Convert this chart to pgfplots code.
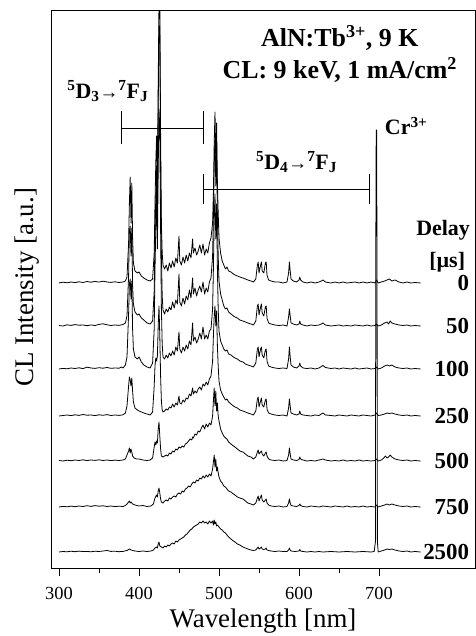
\documentclass[border=0pt]{standalone}
\usepackage{fontspec}
\setmainfont{Liberation Serif}
\usepackage{pgfplots}
\usepackage{pgfplotstable}
\pgfplotsset{compat=1.18}

\pgfplotstableread{
x h
300 0
305 0.8
310 0.2
315 1.0
320 0.4
325 1.2
330 0.5
335 1.5
340 0.8
345 1.6
350 0.9
355 1.8
360 1.0
365 0.6
370 1.2
375 0.5
380 1.0
383 2
385 6
387 40
388 80
389 106
390 60
391 100
392 45
393 20
395 12
398 10
400 11
403 7
406 5
410 3
414 2
417 4
419 30
420 80
421 120
422 147
423 90
424 200
425 280
426 280
427 150
428 60
429 30
430 18
432 14
434 18
436 12
438 20
440 15
442 22
444 16
446 25
448 20
450 47
451 22
453 18
455 26
457 20
459 28
461 22
463 30
465 25
467 44
468 30
470 35
472 28
474 32
476 38
478 30
480 39
482 28
484 34
486 30
488 40
490 45
492 60
493 90
494 140
495 171
496 120
497 160
498 100
499 70
500 45
502 30
504 22
506 18
508 14
510 16
512 12
515 11
518 9
520 8
523 7
526 6
530 5
533 4
536 3
540 2
543 1
546 4
548 18
549 21
550 10
552 18
553 21
554 12
556 10
558 20
559 21
560 8
562 3
565 2
570 1
575 1
580 0
585 1
587 10
588 21
589 12
590 4
593 2
597 1
600 3
601 6
602 3
605 1
610 0
615 1
620 0
625 1
628 2
630 3
633 1
640 0
645 1
650 0
655 1
660 0
665 0.5
670 1
675 0
680 1
685 0
690 1
695 0
697 3
699 0
703 1
707 2
710 3
713 4
716 2
720 3
725 1
730 0
735 1
740 0
745 0.5
752 0
}\Tzero

\pgfplotstableread{
x h
300 0.5
305 0
310 1.2
315 0.6
320 1.4
325 0.8
330 1.0
335 0.3
340 1.1
345 0.5
350 1.6
355 2.2
360 1.2
365 0.5
370 1.0
375 0.6
380 1.5
383 3
385 10
387 50
388 95
389 100
390 70
391 98
392 40
393 22
395 14
398 11
400 12
403 8
406 6
410 3
414 2
417 5
419 35
420 90
421 130
422 160
423 110
424 220
425 300
426 300
427 160
428 70
429 30
430 16
432 12
434 17
436 14
438 19
440 16
442 24
444 18
446 26
448 22
450 52
451 24
453 20
455 28
457 22
459 30
461 26
463 36
465 28
467 48
468 32
470 38
472 30
474 36
476 40
478 34
480 44
482 32
484 38
486 34
488 44
490 48
492 70
493 110
494 160
495 190
496 140
497 180
498 110
499 70
500 45
502 32
504 26
506 20
508 17
510 18
512 14
515 12
518 10
520 9
523 8
526 6
530 5
533 4
536 3
540 2
543 1
546 5
548 20
549 22
550 11
552 19
553 22
554 13
556 10
558 19
559 20
560 8
562 3
565 2
570 1
575 0.5
580 1
585 0
587 9
588 17
589 10
590 3
593 2
597 1
600 2
601 5
602 2
605 1
610 0
615 1
620 0.5
625 1
628 2
630 3
633 1
640 0
645 0.5
650 1
655 0
660 0.5
665 0
670 1
675 0.5
680 0
685 1
690 0
695 0.5
697 2
699 0
703 1
707 3
710 4
712 2
714 5
716 3
720 2
725 1
730 0.5
735 1
740 0
745 0.5
752 0
}\Tfifty

\pgfplotstableread{
x h
300 0
305 0.6
310 0.2
315 1.0
320 0.5
325 1.2
330 0.4
335 1.8
340 1.0
345 0.6
350 1.3
355 0.8
360 1.5
365 0.7
370 1.0
375 0.8
378 2
380 1.0
383 4
385 12
387 55
388 85
389 90
390 70
391 88
392 40
393 20
395 12
398 10
400 12
403 7
406 4
410 2
414 1
417 6
419 40
420 100
421 140
422 180
423 120
424 200
425 260
426 240
427 140
428 60
429 25
430 12
432 10
434 14
436 11
438 16
440 13
442 18
444 14
446 22
448 18
450 37
451 20
453 16
455 22
457 18
459 24
461 20
463 28
465 24
467 46
468 28
470 32
472 26
474 30
476 36
478 30
480 42
482 30
484 34
486 30
488 38
490 40
492 60
493 100
494 150
495 175
496 130
497 165
498 100
499 60
500 38
502 28
504 24
506 20
508 18
510 19
512 15
515 14
518 12
520 11
523 10
526 8
530 7
533 5
536 4
540 3
543 2
546 6
548 20
549 22
550 12
552 20
553 22
554 14
556 11
558 19
559 20
560 8
562 3
565 2
570 1
575 0.5
580 1
585 0.5
587 10
588 22
589 12
590 4
593 2
597 1
600 3
601 6
602 3
605 1
610 0.5
615 1
620 0
625 1
628 2.5
630 3.5
633 1.5
640 0.5
645 1
650 0
655 1
660 0.5
665 0
670 1
675 0
680 0.5
685 1
690 0
695 0.5
697 2
699 0
703 1
707 3
710 4
713 3
716 4
720 2
725 1
730 0.5
735 1
740 0
745 0.5
752 0
}\Thundred

\pgfplotstableread{
x h
300 0
305 0.5
310 1.0
315 0.4
320 1.2
325 0.6
330 1.5
335 0.8
340 1.0
345 0.4
350 1.2
355 0.7
360 1.4
365 0.5
370 1.0
375 0.6
380 1.2
383 3
385 10
387 30
388 39
389 36
390 30
391 38
392 25
393 14
395 8
398 6
400 5
403 4
406 3
410 2
414 1
417 4
419 30
420 50
421 58
422 55
423 60
424 90
425 110
426 80
427 40
428 15
429 6
430 4
432 5
434 7
436 6
438 9
440 8
442 12
444 9
446 13
448 11
450 20
451 13
453 12
455 16
457 14
459 18
461 17
463 22
465 20
467 28
468 22
470 25
472 23
474 27
476 29
478 26
480 32
482 30
484 34
486 31
488 37
490 40
492 55
493 80
494 100
495 110
496 90
497 105
498 70
499 50
500 35
502 26
504 22
506 19
508 16
510 17
512 14
515 12
518 10
520 9
523 8
526 6
530 5
533 4
536 3
540 2
543 1
546 5
548 17
549 19
550 9
552 15
553 18
554 11
556 9
558 16
559 17
560 7
562 3
565 2
570 1
575 0.5
580 1
585 0
587 8
588 17
589 10
590 3
593 2
597 1
600 2
601 5
602 2
605 1
610 0.5
615 0
620 1
625 0.5
628 2
630 3
633 1
640 0.5
645 0
650 1
655 0.5
660 0
665 1
670 0.5
675 0
680 1
685 0.5
690 0
695 1
697 3
699 0.5
703 1
707 2
710 3
713 2.5
716 3
720 2
725 1
730 0.5
735 1
740 0
745 0.5
752 0
}\Tquarter

\pgfplotstableread{
x h
300 0.5
305 0
310 0.8
315 0.3
320 1.0
325 0.5
330 1.2
335 0.4
340 1.0
345 0.6
350 1.2
355 0.5
360 1.0
365 0.4
370 0.9
375 0.5
380 1.0
383 2
385 6
387 10
388 13
389 8
390 12
391 9
392 5
394 3
397 2
400 2
405 1
410 0.5
414 1
417 3
419 14
420 19
421 16
422 20
423 18
424 32
425 39
426 25
427 12
428 5
430 4
432 5
434 6
436 5
438 8
440 7
442 10
444 9
446 12
448 11
450 14
452 13
454 15
456 14
458 17
460 18
462 20
464 22
466 21
467 24
468 23
470 27
472 26
474 30
476 29
478 33
480 36
482 32
484 37
486 34
488 38
490 36
492 45
493 60
494 73
495 55
496 70
497 50
498 58
499 45
500 40
502 32
504 28
506 25
508 23
510 22
512 19
515 17
518 15
520 14
523 12
526 10
530 9
533 7
536 5
540 4
543 2
546 4
548 9
549 11
550 7
552 9
553 10
554 7
556 5
558 8
559 9
560 5
562 2
565 1
570 0.5
575 1
580 0
585 0.5
587 6
588 13
589 7
590 2
593 1
597 0.5
600 1.5
601 4
602 2
605 1
610 0
615 0.5
620 0
625 1
628 1.5
630 2
633 1
640 0
645 0.5
650 0
655 1
660 0
665 0.5
670 0
675 1
680 0
685 0.5
690 0
695 0.5
697 2
699 0
703 1
706 3
708 5
710 3
712 4
714 6
716 4
720 2
725 1
730 0.5
735 1
740 0
745 0.5
752 0
}\Tfivehundred

\pgfplotstableread{
x h
300 0
305 0.6
310 0.2
315 0.9
320 0.3
325 1.0
330 0.5
335 1.3
340 0.6
345 1.4
350 0.8
355 1.2
360 0.5
365 1.0
370 0.4
375 0.8
380 0.5
383 1.5
385 3
387 5
388 6
389 4
390 5
392 3
395 2
400 1
405 1.5
410 0.5
415 1
418 3
420 9
422 12
423 10
424 16
425 19
426 14
427 8
428 5
430 4
432 6
434 7
436 6
438 9
440 8
442 10
444 11
446 10
448 13
450 14
452 13
454 16
456 15
458 18
460 19
462 21
464 20
466 23
468 25
470 24
472 27
474 26
476 29
478 28
480 31
482 29
484 32
486 30
488 33
490 31
492 38
493 45
494 52
495 40
496 48
497 36
498 40
499 34
500 30
502 26
504 24
506 21
508 20
510 18
512 16
515 15
518 13
520 12
523 10
526 9
530 8
533 6
536 4
540 3
543 2
546 4
548 9
549 11
550 6
552 10
553 12
554 7
556 5
558 7
559 8
560 4
562 2
565 1
570 0.5
575 1
580 0
585 0.5
587 4
588 8
589 4
590 1.5
593 1
597 0.5
600 1.5
601 3
602 1.5
605 0.5
610 0
615 1
620 0.5
625 0
630 1
635 0.5
640 0
645 1
650 0.5
655 0
660 1
665 0
670 0.5
675 0
680 1
685 0
690 0.5
695 0
697 2
699 0
703 1
707 2
710 3
713 2
716 3
720 2
725 1
730 0.5
735 1
740 0
745 0.5
752 0
}\Tsevenfifty

\pgfplotstableread{
x h
300 0
305 0.5
310 0.2
315 0.8
320 0.3
325 0.9
330 0.4
335 0.6
340 0.2
345 0.8
350 0.5
355 1.0
360 1.5
365 0.6
370 0.8
375 0.3
380 0.6
385 1.5
388 3
390 2
392 1.5
395 1
400 0.5
405 1
410 0.5
415 1
418 2
420 4
422 5
423 4
424 8
425 10
426 6
428 5
430 4
432 6
434 5
436 7
438 6
440 8
442 9
444 8
446 11
448 10
450 12
452 13
454 14
456 15
458 17
460 18
462 20
464 22
466 23
468 25
470 26
472 27
474 28
476 30
478 29
480 31
482 29
484 30
486 28
488 31
490 29
492 31
493 27
494 32
495 28
496 30
497 26
498 27
500 25
502 23
504 22
506 20
508 19
510 17
512 15
515 13
518 11
520 10
523 8
526 7
530 5
533 4
536 3
540 2
543 1.5
546 2
548 4
549 5
550 3
552 4
553 5
554 3
556 2.5
558 3
559 4
560 2
562 1.5
565 1
570 0.5
575 1
580 0.5
585 0.5
587 2
588 4
589 2
590 1
595 0.5
600 1
601 2.5
602 1
605 0.5
610 0
615 0.5
620 0
625 0.5
630 0
640 0.5
650 0
660 0.5
670 0
680 0.5
690 0
694 0.5
695.5 10
696 300
696.5 422
697 422
697.5 300
698 10
699 0
703 1
707 2
710 3
713 2.5
716 3
720 2
725 1
730 0.5
735 1
740 0
745 0.5
752 0
}\Ttwentyfive

\newcommand{\arr}{{\fontsize{19}{19}\selectfont →}}

\begin{document}
\begin{tikzpicture}
\useasboundingbox (-51bp,-68bp) rectangle (425bp,568bp);
\begin{axis}[
  at={(0,0)}, anchor=south west,
  scale only axis, width=424bp, height=557bp,
  xmin=290, xmax=820, ymin=0, ymax=557,
  axis line style={line width=1pt},
  xtick={300,400,500,600,700},
  minor xtick={350,450,550,650},
  xtick pos=bottom, tick align=outside,
  major tick length=8bp, minor tick length=5bp,
  tick style={black, line width=0.9pt},
  ytick=\empty,
  /pgf/number format/assume math mode=true,
  xticklabel style={font=\fontsize{18.5}{18.5}\selectfont, anchor=center, yshift=-17bp},
  xlabel={Wavelength [nm]},
  xlabel style={font=\fontsize{27}{27}\selectfont, at={(axis description cs:0.5,-0.095)}, anchor=center},
  ylabel={CL Intensity [a.u.]},
  ylabel style={font=\fontsize{27}{27}\selectfont, at={(axis description cs:-0.0566,0.504)}, anchor=center},
  spec/.style={black, solid, line width=0.8pt, no markers, line join=round},
]
\addplot[spec] table[x=x, y expr=\thisrow{h}+285] {\Tzero};
\addplot[spec] table[x=x, y expr=\thisrow{h}+242] {\Tfifty};
\addplot[spec] table[x=x, y expr=\thisrow{h}+199] {\Thundred};
\addplot[spec] table[x=x, y expr=\thisrow{h}+152] {\Tquarter};
\addplot[spec] table[x=x, y expr=\thisrow{h}+107] {\Tfivehundred};
\addplot[spec] table[x=x, y expr=\thisrow{h}+61] {\Tsevenfifty};
\addplot[spec] table[x=x, y expr=\thisrow{h}+16] {\Ttwentyfive};

\draw[line width=0.7pt] (axis cs:377.5,440) -- (axis cs:480,440);
\draw[line width=0.7pt] (axis cs:377.5,457) -- (axis cs:377.5,424);
\draw[line width=0.7pt] (axis cs:480,457) -- (axis cs:480,424);
\draw[line width=0.7pt] (axis cs:481,379) -- (axis cs:687.5,379);
\draw[line width=0.7pt] (axis cs:481,394) -- (axis cs:481,364);
\draw[line width=0.7pt] (axis cs:687.5,394) -- (axis cs:687.5,364);

\node[font=\fontsize{26}{26}\selectfont\bfseries] at (axis cs:651,530) {AlN:Tb\textsuperscript{3+}, 9 K};
\node[font=\fontsize{26}{26}\selectfont\bfseries] at (axis cs:651,498) {CL: 9 keV, 1 mA/cm\textsuperscript{2}};
\node[font=\fontsize{22}{22}\selectfont\bfseries] at (axis cs:361,477) {\textsuperscript{5}D\textsubscript{3}\arr\textsuperscript{7}F\textsubscript{J}};
\node[font=\fontsize{22}{22}\selectfont\bfseries] at (axis cs:597,406) {\textsuperscript{5}D\textsubscript{4}\arr\textsuperscript{7}F\textsubscript{J}};
\node[font=\fontsize{22}{22}\selectfont\bfseries] at (axis cs:734,442) {Cr\textsuperscript{3+}};

\node[font=\fontsize{22}{22}\selectfont\bfseries, anchor=east] at (axis cs:818,338) {Delay};
\node[font=\fontsize{22}{22}\selectfont\bfseries, anchor=east] at (axis cs:812,306) {[µs]};
\node[font=\fontsize{23}{23}\selectfont\bfseries, anchor=east] at (axis cs:817,285) {0};
\node[font=\fontsize{23}{23}\selectfont\bfseries, anchor=east] at (axis cs:817,242) {50};
\node[font=\fontsize{23}{23}\selectfont\bfseries, anchor=east] at (axis cs:817,199) {100};
\node[font=\fontsize{23}{23}\selectfont\bfseries, anchor=east] at (axis cs:817,152) {250};
\node[font=\fontsize{23}{23}\selectfont\bfseries, anchor=east] at (axis cs:817,107) {500};
\node[font=\fontsize{23}{23}\selectfont\bfseries, anchor=east] at (axis cs:817,61) {750};
\node[font=\fontsize{23}{23}\selectfont\bfseries, anchor=east] at (axis cs:817,16) {2500};
\end{axis}
\end{tikzpicture}
\end{document}
